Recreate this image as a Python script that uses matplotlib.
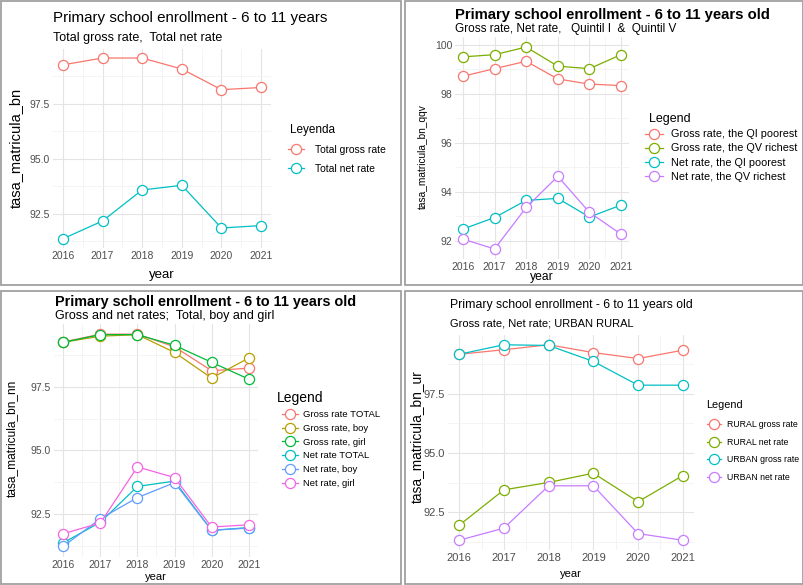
import matplotlib.pyplot as plt
from matplotlib.ticker import MultipleLocator, FormatStrFormatter
from matplotlib.patches import Rectangle

plt.rcParams['font.family'] = ['Liberation Sans', 'DejaVu Sans']

years = [2016, 2017, 2018, 2019, 2020, 2021]

# panel 1: total
total_gross = [99.27, 99.58, 99.58, 99.08, 98.14, 98.24]
total_net = [91.36, 92.17, 93.58, 93.79, 91.85, 91.96]

# panel 2: quintiles
gross_q1 = [98.71, 99.02, 99.32, 98.60, 98.39, 98.33]
gross_q5 = [99.50, 99.59, 99.90, 99.12, 99.02, 99.59]
net_q1 = [92.48, 92.95, 93.65, 93.73, 92.97, 93.46]
net_q5 = [92.07, 91.67, 93.36, 94.63, 93.16, 92.27]

# panel 3: sex
gross_boy = [99.26, 99.50, 99.56, 98.86, 97.85, 98.64]
gross_girl = [99.26, 99.56, 99.56, 99.14, 98.47, 97.81]
net_boy = [91.22, 92.31, 93.14, 93.73, 91.85, 91.94]
net_girl = [91.72, 92.14, 94.35, 93.93, 91.98, 92.07]

# panel 4: urban / rural
rural_gross = [99.15, 99.34, 99.55, 99.22, 98.97, 99.32]
rural_net = [91.96, 93.45, 93.76, 94.15, 92.95, 94.05]
urban_gross = [99.15, 99.55, 99.52, 98.85, 97.85, 97.85]
urban_net = [91.33, 91.84, 93.62, 93.62, 91.61, 91.33]

W, H = 804, 585
fig = plt.figure(figsize=(W / 100, H / 100), dpi=100)


def fx(px):
    return px / W


def fy(py):
    return 1 - py / H


def make_axes(x0, y0, x1, y1, tick_fs):
    ax = fig.add_axes([fx(x0), fy(y1), fx(x1 - x0), (y1 - y0) / H])
    for s in ax.spines.values():
        s.set_visible(False)
    ax.grid(which='major', color='#E4E4E4', lw=0.8)
    ax.grid(which='minor', color='#F0F0F0', lw=0.5)
    ax.tick_params(which='both', length=0, labelsize=tick_fs, labelcolor='#4D4D4D', pad=2)
    ax.set_xlim(2015.75, 2021.25)
    ax.xaxis.set_major_locator(MultipleLocator(1))
    ax.xaxis.set_minor_locator(MultipleLocator(0.5))
    ax.set_axisbelow(True)
    return ax


def draw(ax, series, labels, colors):
    for vals, lab, col in zip(series, labels, colors):
        ax.plot(years, vals, color=col, lw=0.9, marker='o', ms=7.3,
                mfc='white', mec=col, mew=0.9, label=lab)


def frame(x0, y0, x1, y1):
    fig.patches.append(Rectangle((fx(x0), fy(y1)), fx(x1 - x0), (y1 - y0) / H,
                                 transform=fig.transFigure, fill=False,
                                 ec='#A0A0A0', lw=1.3))


def legend(ax, title, title_xy, title_fs, marker_x, y_first, y_last, fs, spacing, textpad):
    fig.text(fx(title_xy[0]), fy(title_xy[1]), title, fontsize=title_fs,
             va='center', ha='left')
    fs_px = fs * 100 / 72
    hl = 1.6
    ax.legend(loc='center left',
              bbox_to_anchor=(fx(marker_x - hl * fs_px / 2), fy((y_first + y_last) / 2)),
              bbox_transform=fig.transFigure, frameon=False, fontsize=fs,
              handlelength=hl, labelspacing=spacing, borderpad=0,
              borderaxespad=0, handletextpad=textpad)


frame(1, 1, 401, 285)
frame(405, 1, 803, 285)
frame(1, 291, 401, 584)
frame(405, 291, 803, 584)

# ---- panel 1
ax1 = make_axes(53, 49, 271, 248, 7.5)
draw(ax1, [total_gross, total_net], ['Total gross rate', 'Total net rate'],
     ['#F8766D', '#00BFC4'])
ax1.set_ylim(90.94, 99.99)
ax1.yaxis.set_major_locator(MultipleLocator(2.5))
ax1.yaxis.set_minor_locator(MultipleLocator(1.25))
ax1.yaxis.set_major_formatter(FormatStrFormatter('%.1f'))
fig.text(fx(53), fy(18), 'Primary school enrollment - 6 to 11 years', fontsize=10.9,
         va='center', ha='left')
fig.text(fx(53), fy(38), 'Total gross rate,  Total net rate', fontsize=9,
         va='center', ha='left')
fig.text(fx(16), fy(148), 'tasa_matricula_bn', rotation=90, fontsize=10.5,
         va='center', ha='center')
fig.text(fx(162), fy(275), 'year', fontsize=9.5, va='center', ha='center')
legend(ax1, 'Leyenda', (290, 130), 8.5, 296, 150, 169, 7.5, 0.85, 1.0)

# ---- panel 2
ax2 = make_axes(455, 37, 629, 259, 7.5)
draw(ax2, [gross_q1, gross_q5, net_q1, net_q5],
     ['Gross rate, the QI poorest', 'Gross rate, the QV richest',
      'Net rate, the QI poorest', 'Net rate, the QV richest'],
     ['#F8766D', '#7CAE00', '#00BFC4', '#C77CFF'])
ax2.set_ylim(91.26, 100.31)
ax2.yaxis.set_major_locator(MultipleLocator(2))
ax2.yaxis.set_minor_locator(MultipleLocator(1))
fig.text(fx(455), fy(15), 'Primary school enrollment - 6 to 11 years old',
         fontsize=10.7, fontweight='bold', va='center', ha='left')
fig.text(fx(455), fy(29), 'Gross rate, Net rate,   Quintil I  &  Quintil V',
         fontsize=8.5, va='center', ha='left')
fig.text(fx(423), fy(157), 'tasa_matricula_bn_qqv', rotation=90, fontsize=7.3,
         va='center', ha='center')
fig.text(fx(542), fy(277), 'year', fontsize=8.7, va='center', ha='center')
legend(ax2, 'Legend', (649, 119), 9, 654, 135, 176, 7.8, 0.38, 0.75)

# ---- panel 3
ax3 = make_axes(54, 324, 258, 557, 7.5)
draw(ax3, [total_gross, gross_boy, gross_girl, total_net, net_boy, net_girl],
     ['Gross rate TOTAL', 'Gross rate, boy', 'Gross rate, girl',
      'Net rate TOTAL', 'Net rate, boy', 'Net rate, girl'],
     ['#F8766D', '#B79F00', '#00BA38', '#00BFC4', '#619CFF', '#F564E3'])
ax3.set_ylim(90.80, 99.98)
ax3.yaxis.set_major_locator(MultipleLocator(2.5))
ax3.yaxis.set_minor_locator(MultipleLocator(1.25))
ax3.yaxis.set_major_formatter(FormatStrFormatter('%.1f'))
fig.text(fx(55), fy(302), 'Primary scholl enrollment - 6 to 11 years old',
         fontsize=10.4, fontweight='bold', va='center', ha='left')
fig.text(fx(55), fy(316), 'Gross and net rates;  Total, boy and girl',
         fontsize=9, va='center', ha='left')
fig.text(fx(12), fy(438), 'tasa_matricula_bn_nn', rotation=90, fontsize=8.6,
         va='center', ha='center')
fig.text(fx(156), fy(577), 'year', fontsize=8, va='center', ha='center')
legend(ax3, 'Legend', (277, 398), 10, 290, 414, 484, 6.8, 0.5, 0.6)

# ---- panel 4
ax4 = make_axes(448, 335, 694, 550, 8)
draw(ax4, [rural_gross, rural_net, urban_gross, urban_net],
     ['RURAL gross rate', 'RURAL net rate', 'URBAN gross rate', 'URBAN net rate'],
     ['#F8766D', '#7CAE00', '#00BFC4', '#C77CFF'])
ax4.set_ylim(90.92, 99.96)
ax4.yaxis.set_major_locator(MultipleLocator(2.5))
ax4.yaxis.set_minor_locator(MultipleLocator(1.25))
ax4.yaxis.set_major_formatter(FormatStrFormatter('%.1f'))
fig.text(fx(450), fy(305), 'Primary school enrollment - 6 to 11 years old',
         fontsize=8.8, va='center', ha='left')
fig.text(fx(450), fy(324), 'Gross rate, Net rate; URBAN RURAL',
         fontsize=8, va='center', ha='left')
fig.text(fx(417), fy(437), 'tasa_matricula_bn_ur', rotation=90, fontsize=9.9,
         va='center', ha='center')
fig.text(fx(571), fy(574), 'year', fontsize=8, va='center', ha='center')
legend(ax4, 'Legend', (706, 405), 7.8, 714, 424, 478, 6.3, 1.0, 0.7)

fig.savefig('out.png', dpi=100)
